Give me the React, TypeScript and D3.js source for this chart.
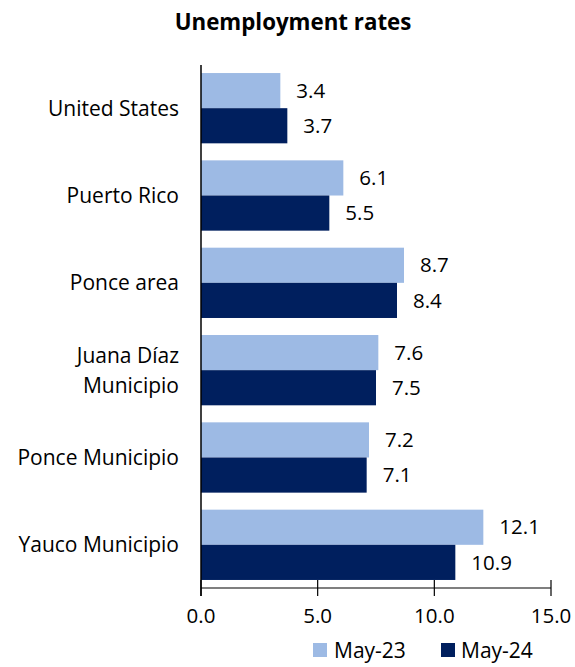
import React from "react";
import * as d3 from "d3";

const categories = ["United States", "Puerto Rico", "Ponce area", "Juana Díaz Municipio", "Ponce Municipio", "Yauco Municipio"];
const categoryLines = [["United States"], ["Puerto Rico"], ["Ponce area"], ["Juana Díaz", "Municipio"], ["Ponce Municipio"], ["Yauco Municipio"]];
const may23 = [3.4, 6.1, 8.7, 7.6, 7.2, 12.1];
const may24 = [3.7, 5.5, 8.4, 7.5, 7.1, 10.9];
const seriesNames = ["May-23", "May-24"];
const xTicks = [0, 5, 10, 15];

const colors = ["#9DBAE4", "#001F5E"];
const font = "'Open Sans', sans-serif";

export default function App() {
  const W = 575, H = 667;
  const x = d3.scaleLinear().domain([0, 15]).range([201, 551]);
  const y = d3.scaleBand<string>().domain(categories).range([65, 588]).paddingInner(0.195).paddingOuter(0.092);
  const bw = y.bandwidth() / 2;
  const series = [may23, may24];
  const axisY = 588;

  return (
    <svg width={W} height={H} style={{ position: "absolute", left: 0, top: 0, background: "#fff" }} fontFamily={font}>
      <text x={293} y={22} dy="0.35em" textAnchor="middle" fontWeight="bold" fontSize={22.3} fill="#000">Unemployment rates</text>
      {series.map((vals, si) =>
        categories.map((c, i) => {
          const y0 = (y(c) as number) + si * bw;
          return (
            <g key={`${si}-${i}`}>
              <rect x={x(0)} y={y0} width={x(vals[i]) - x(0)} height={bw} fill={colors[si]} />
              <text x={x(vals[i]) + 16} y={y0 + bw / 2} dy="0.35em" fontSize={20.5} fill="#000">{vals[i].toFixed(1)}</text>
            </g>
          );
        })
      )}
      {categories.map((c, i) => {
        const lines = categoryLines[i];
        const cy = (y(c) as number) + y.bandwidth() / 2;
        return (
          <text key={c} x={179} y={cy} textAnchor="end" fontSize={21} fill="#000">
            {lines.map((l, j) => (
              <tspan key={j} x={179} y={cy + (j - (lines.length - 1) / 2) * 30} dy="0.35em">{l}</tspan>
            ))}
          </text>
        );
      })}
      <line x1={x(0)} x2={x(0)} y1={65} y2={596} stroke="#000" strokeWidth={1.5} />
      <line x1={x(0)} x2={x(15)} y1={axisY} y2={axisY} stroke="#000" strokeWidth={1.2} />
      {xTicks.map((t) => (
        <g key={t}>
          <line x1={x(t)} x2={x(t)} y1={580} y2={596} stroke="#000" strokeWidth={1.2} />
          <text x={x(t)} y={616} dy="0.35em" textAnchor="middle" fontSize={20.5} fill="#000">{t.toFixed(1)}</text>
        </g>
      ))}
      {seriesNames.map((n, i) => (
        <g key={n}>
          <rect x={313 + i * 128} y={643} width={14} height={14} fill={colors[i]} />
          <text x={334 + i * 127} y={651} dy="0.35em" fontSize={21} fill="#000">{n}</text>
        </g>
      ))}
    </svg>
  );
}
